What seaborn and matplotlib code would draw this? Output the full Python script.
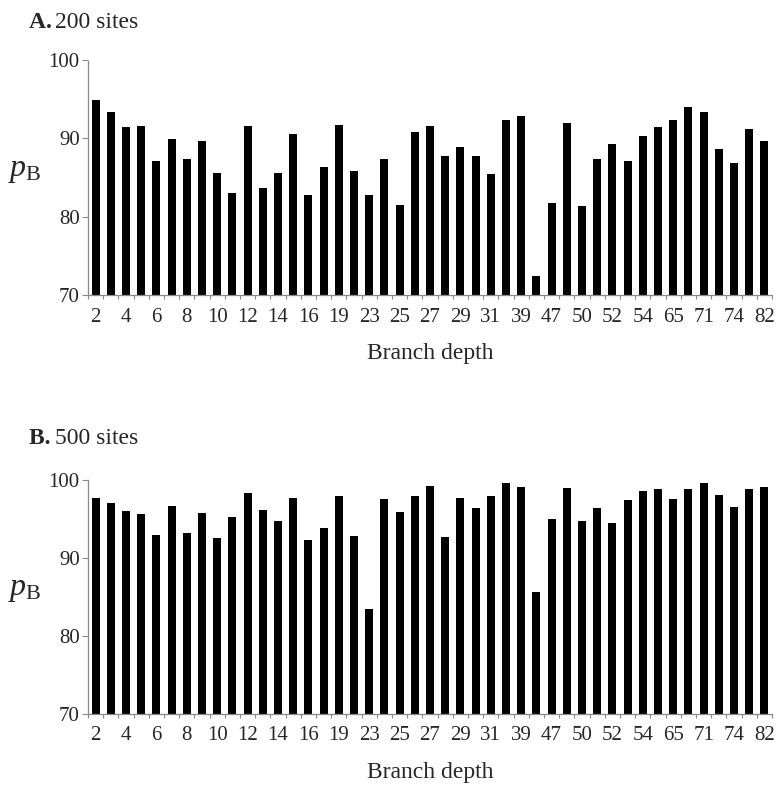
import matplotlib
matplotlib.use("Agg")
import matplotlib.pyplot as plt
import seaborn as sns
import numpy as np
import pandas as pd

# Branch depths labelled along the x axis (every second bar carries a label)
tick_labels = ["2", "4", "6", "8", "10", "12", "14", "16", "19", "23", "25", "27",
               "29", "31", "39", "47", "50", "52", "54", "65", "71", "74", "82"]

# Bootstrap support p_B for each branch, 200 sites
pb_200 = [94.9, 93.4, 91.4, 91.6, 87.1, 89.9, 87.4, 89.6, 85.6, 83.0,
          91.6, 83.7, 85.6, 90.5, 82.8, 86.3, 91.7, 85.8, 82.8, 87.3,
          81.5, 90.8, 91.6, 87.8, 88.9, 87.7, 85.4, 92.4, 92.8, 72.4,
          81.8, 91.9, 81.3, 87.3, 89.3, 87.1, 90.3, 91.4, 92.4, 94.0,
          93.4, 88.6, 86.8, 91.2, 89.6]

# Bootstrap support p_B for each branch, 500 sites
pb_500 = [97.7, 97.0, 96.0, 95.7, 93.0, 96.7, 93.2, 95.8, 92.5, 95.3,
          98.3, 96.2, 94.8, 97.7, 92.3, 93.9, 97.9, 92.8, 83.5, 97.6,
          95.9, 98.0, 99.2, 92.7, 97.7, 96.4, 98.0, 99.6, 99.1, 85.6,
          95.0, 99.0, 94.8, 96.4, 94.5, 97.4, 98.6, 98.9, 97.6, 98.8,
          99.6, 98.1, 96.5, 98.8, 99.1]

sns.set_theme(style="white")
plt.rcParams["font.family"] = ["Liberation Serif", "DejaVu Serif"]
plt.rcParams["mathtext.fontset"] = "custom"
plt.rcParams["mathtext.rm"] = "Liberation Serif"
plt.rcParams["mathtext.it"] = "Liberation Serif:italic"

fig = plt.figure(figsize=(7.76, 7.86), dpi=100)
W, H = 776.0, 786.0

axis_col = "#8a8a8a"


def panel(rect, values, title, title_y):
    ax = fig.add_axes(rect)
    n = len(values)
    df = pd.DataFrame({"pos": np.arange(n), "pb": values})
    sns.barplot(data=df, x="pos", y="pb", color="black", saturation=1,
                width=0.53, ax=ax, edgecolor="black", linewidth=0)
    ax.set_xlim(-0.5, n - 0.5)
    ax.set_ylim(70, 100)
    ax.set_yticks([70, 80, 90, 100])
    ax.set_yticklabels(["70", "80", "90", "100"], fontsize=15)
    # labels under every second bar, small ticks between bars
    ax.set_xticks(np.arange(0, n, 2))
    ax.set_xticklabels(tick_labels, fontsize=15)
    ax.tick_params(axis="x", which="major", length=0, pad=9)
    ax.set_xticks(np.arange(-0.5, n, 1.0), minor=True)
    ax.tick_params(axis="x", which="minor", bottom=True, length=3,
                   width=0.8, color=axis_col, direction="out")
    ax.tick_params(axis="y", which="major", left=True, length=4, width=0.8,
                   color=axis_col, direction="out", pad=2)
    for side in ("top", "right"):
        ax.spines[side].set_visible(False)
    for side in ("left", "bottom"):
        ax.spines[side].set_color(axis_col)
        ax.spines[side].set_linewidth(0.9)
        ax.spines[side].set_linestyle((0, (1.2, 0.8)))
    ax.set_xlabel("Branch depth", fontsize=17, labelpad=12)
    ax.set_ylabel(r"$p_{\mathrm{B}}$", fontsize=23, rotation=0,
                  ha="center", va="center")
    ax.yaxis.set_label_coords(-0.092, 0.53)
    ax.grid(False)
    fig.text(29 / W, 1 - title_y / H, title[0] + " ", fontsize=17,
             fontweight="bold", ha="left", va="center")
    fig.text(55 / W, 1 - title_y / H, title[1], fontsize=17,
             ha="left", va="center")
    return ax


left = 88 / W
width = (772 - 88) / W
panel([left, 1 - 295 / H, width, (295 - 60) / H], pb_200, ("A.", "200 sites"), 23)
panel([left, 1 - 714 / H, width, (714 - 480) / H], pb_500, ("B.", "500 sites"), 438)

fig.savefig("out.png", dpi=100, facecolor="white")
